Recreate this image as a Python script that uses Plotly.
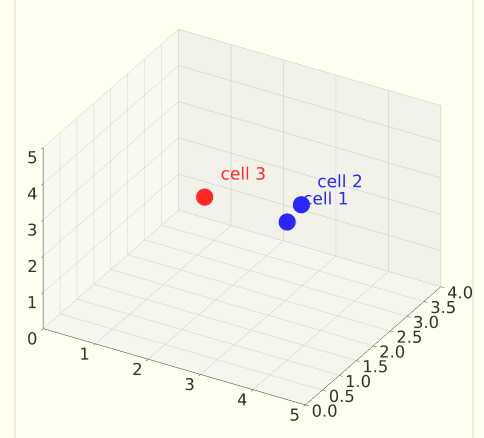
import plotly.graph_objects as go

labels = ["cell 1", "cell 2", "cell 3"]
xs = [3.1, 3.08, 1.14]
ys = [2.4, 2.85, 3.0]
zs = [2.3, 2.4, 1.67]
colors = ["rgba(40,40,252,1)", "rgba(40,40,252,1)", "rgba(255,40,36,1)"]

x_ticks = [0, 1, 2, 3, 4, 5]
y_ticks = [0.0, 0.5, 1.0, 1.5, 2.0, 2.5, 3.0, 3.5, 4.0]
z_ticks = [0, 1, 2, 3, 4, 5]

fig = go.Figure()
fig.add_trace(go.Scatter3d(
    x=xs, y=ys, z=zs, text=labels, mode="markers+text",
    marker=dict(size=10, color=colors, line=dict(width=0)),
    textposition="top right",
    textfont=dict(family="DejaVu Sans", size=17, color=colors),
    hoverinfo="skip", showlegend=False,
))

def ax(rng, ticks, fmt, bg):
    return dict(
        range=rng, tickvals=ticks, ticktext=[fmt.format(t) for t in ticks],
        showbackground=True, backgroundcolor=bg,
        gridcolor="#c8c8c4", gridwidth=1,
        showline=True, linecolor="#333333", linewidth=1,
        ticks="outside", tickcolor="#333333", ticklen=4, tickangle=0,
        zeroline=False, showspikes=False, title=dict(text=""),
        tickfont=dict(family="DejaVu Sans", size=14, color="#333333"),
    )

s = 1.33
r = 1.7
fig.update_layout(
    width=484, height=438,
    paper_bgcolor="#fffff0",
    margin=dict(l=0, r=0, t=0, b=0),
    font=dict(family="DejaVu Sans"),
    scene=dict(
        xaxis=ax([0, 5], x_ticks, "{:d}", "#f9f9f1"),
        yaxis=ax([0, 4], y_ticks, "{:.1f}", "#f2f2eb"),
        zaxis=ax([0, 5], z_ticks, "{:d}", "#f6f6ee"),
        aspectmode="manual", aspectratio=dict(x=1.04 * s, y=0.93 * s, z=0.72 * s),
        camera=dict(eye=dict(x=0.433 * r, y=-0.75 * r, z=0.5 * r),
                    center=dict(x=0, y=0, z=-0.01), up=dict(x=0, y=0, z=1),
                    projection=dict(type="orthographic")),
        domain=dict(x=[0, 1], y=[0, 1]),
    ),
    shapes=[
        dict(type="line", xref="paper", yref="paper", x0=15/484, x1=15/484, y0=0, y1=1,
             line=dict(color="#d8d8d0", width=1), layer="above"),
        dict(type="line", xref="paper", yref="paper", x0=473/484, x1=473/484, y0=0, y1=1,
             line=dict(color="#d8d8d0", width=1), layer="above"),
    ],
)

fig.write_html("out.html", config={"displayModeBar": False},
               post_script="document.body.style.margin='0';document.body.style.background='#fffff0';")
